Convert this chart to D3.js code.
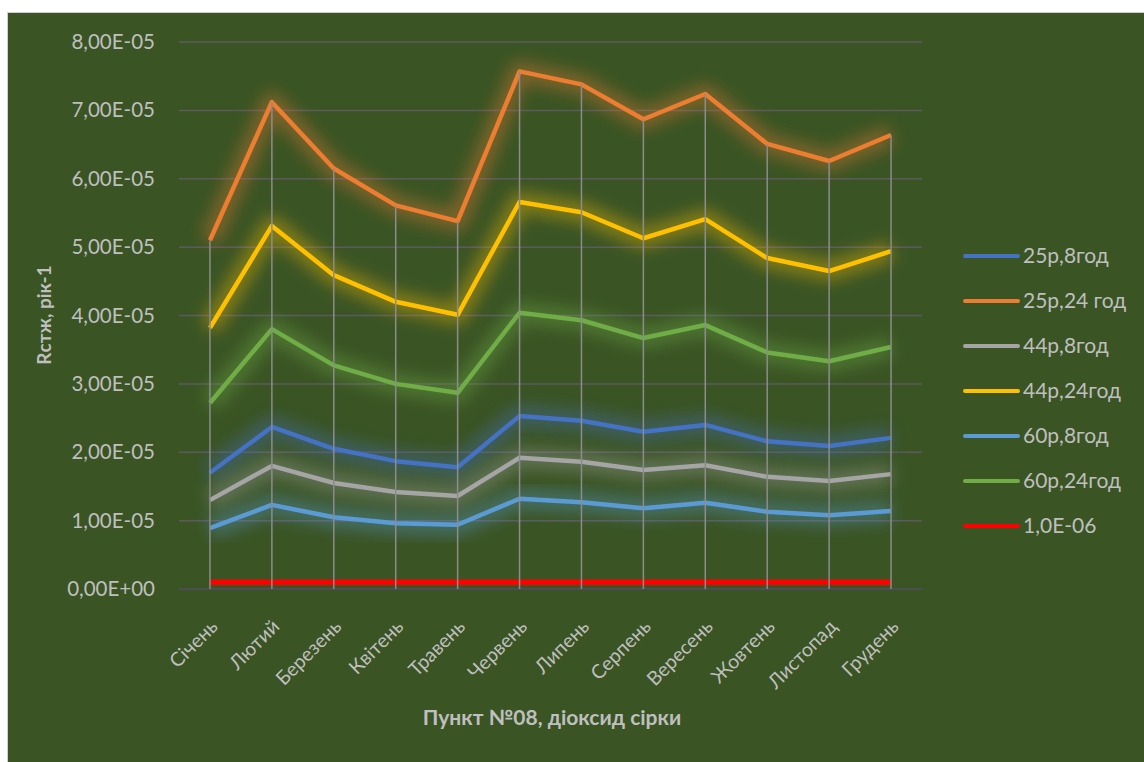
<!DOCTYPE html>
<html>
<head>
<meta charset="utf-8">
<script src="https://cdn.jsdelivr.net/npm/d3@7"></script>
<style>
  body { margin: 0; background: #fff; }
  text { font-family: Lato, "Open Sans", sans-serif; fill: #bfbfbf; }
</style>
</head>
<body>
<div id="chart"></div>
<script>
// data
const months = ['Січень', 'Лютий', 'Березень', 'Квітень', 'Травень', 'Червень',
  'Липень', 'Серпень', 'Вересень', 'Жовтень', 'Листопад', 'Грудень'];
const yTicks = [0, 1e-5, 2e-5, 3e-5, 4e-5, 5e-5, 6e-5, 7e-5, 8e-5];
const yTickLabels = ['0,00E+00', '1,00E-05', '2,00E-05', '3,00E-05', '4,00E-05',
  '5,00E-05', '6,00E-05', '7,00E-05', '8,00E-05'];

const s25r8 = [1.70, 2.37, 2.05, 1.87, 1.78, 2.53, 2.46, 2.30, 2.40, 2.16, 2.09, 2.21].map(v => v * 1e-5);
const s25r24 = [5.10, 7.12, 6.15, 5.61, 5.38, 7.57, 7.38, 6.87, 7.24, 6.51, 6.26, 6.64].map(v => v * 1e-5);
const s44r8 = [1.30, 1.80, 1.55, 1.42, 1.36, 1.92, 1.86, 1.74, 1.81, 1.64, 1.58, 1.68].map(v => v * 1e-5);
const s44r24 = [3.82, 5.31, 4.59, 4.20, 4.01, 5.66, 5.51, 5.13, 5.41, 4.84, 4.65, 4.94].map(v => v * 1e-5);
const s60r8 = [0.89, 1.23, 1.05, 0.96, 0.94, 1.32, 1.27, 1.18, 1.26, 1.13, 1.08, 1.14].map(v => v * 1e-5);
const s60r24 = [2.72, 3.80, 3.27, 3.00, 2.87, 4.04, 3.93, 3.67, 3.86, 3.46, 3.33, 3.54].map(v => v * 1e-5);
const sLimit = months.map(() => 1.0e-6);

const seriesNames = ['25р,8год', '25р,24 год', '44р,8год', '44р,24год', '60р,8год', '60р,24год', '1,0E-06'];
const seriesValues = [s25r8, s25r24, s44r8, s44r24, s60r8, s60r24, sLimit];
const seriesColors = ['#4472c4', '#ed7d31', '#a5a5a5', '#ffc000', '#5b9bd5', '#70ad47', '#ff0000'];

// layout
const width = 1144;
const height = 762;
const plot = { left: 179, right: 922, top: 42, bottom: 589 };

const svg = d3.select('#chart').append('svg')
    .attr('width', width)
    .attr('height', height);

// glow filter
const defs = svg.append('defs');
const glow = defs.append('filter')
    .attr('id', 'glow')
    .attr('x', '-20%').attr('y', '-50%')
    .attr('width', '140%').attr('height', '200%');
glow.append('feGaussianBlur').attr('stdDeviation', 8);

// background
svg.append('rect')
    .attr('x', 7.5).attr('y', 12.5)
    .attr('width', width).attr('height', height)
    .attr('fill', '#3a5424')
    .attr('stroke', '#d0d0d0')
    .attr('stroke-width', 1);

const xScale = d3.scaleBand()
    .domain(months)
    .range([plot.left, plot.right]);

const yScale = d3.scaleLinear()
    .domain([0, 8e-5])
    .range([plot.bottom, plot.top]);

const xPos = m => xScale(m) + xScale.bandwidth() / 2;

// gridlines
svg.append('g')
    .selectAll('line')
    .data(yTicks)
    .enter().append('line')
    .attr('x1', plot.left)
    .attr('x2', plot.right)
    .attr('y1', d => yScale(d))
    .attr('y2', d => yScale(d))
    .attr('stroke', d => d === 0 ? '#4d4d55' : '#5c5a5f')
    .attr('stroke-width', d => d === 0 ? 2 : 1.5);

// y axis labels
const yAxis = d3.axisLeft(yScale)
    .tickValues(yTicks)
    .tickFormat((d, i) => yTickLabels[i])
    .tickSize(0)
    .tickPadding(8);
const yG = svg.append('g')
    .attr('transform', 'translate(' + (plot.left - 16) + ',0)')
    .call(yAxis);
yG.select('.domain').remove();
yG.selectAll('text')
    .style('font-size', '20.5px')
    .attr('fill', '#bfbfbf');

// x axis labels
const xAxis = d3.axisBottom(xScale).tickSize(0).tickPadding(0);
const xG = svg.append('g')
    .attr('transform', 'translate(0,' + (plot.bottom + 16) + ')')
    .call(xAxis);
xG.select('.domain').remove();
xG.selectAll('text')
    .style('font-size', '19.5px')
    .attr('fill', '#bfbfbf')
    .attr('text-anchor', 'end')
    .attr('y', 0)
    .attr('dy', '0.35em')
    .attr('transform', 'translate(4,18) rotate(-45)');

// series lines
const line = d3.line()
    .x((d, i) => xPos(months[i]))
    .y(d => yScale(d));

const seriesG = svg.append('g');
seriesValues.forEach((vals, k) => {
    if (k < 6) {
        seriesG.append('path')
            .datum(vals)
            .attr('d', line)
            .attr('fill', 'none')
            .attr('stroke', seriesColors[k])
            .attr('stroke-width', 20)
            .attr('stroke-opacity', 0.38)
            .attr('stroke-linejoin', 'round')
            .attr('filter', 'url(#glow)');
    }
});
seriesValues.forEach((vals, k) => {
    seriesG.append('path')
        .datum(vals)
        .attr('d', line)
        .attr('fill', 'none')
        .attr('stroke', seriesColors[k])
        .attr('stroke-width', k === 6 ? 5.5 : 4.5)
        .attr('stroke-linejoin', 'round');
});

// drop lines
const maxVals = months.map((m, i) => d3.max(seriesValues, s => s[i]));
svg.append('g')
    .selectAll('line')
    .data(months)
    .enter().append('line')
    .attr('x1', d => xPos(d))
    .attr('x2', d => xPos(d))
    .attr('y1', (d, i) => yScale(maxVals[i]))
    .attr('y2', plot.bottom)
    .attr('stroke', '#8c8c8c')
    .attr('stroke-width', 1.5);

// axis titles
svg.append('text')
    .attr('transform', 'translate(51,315) rotate(-90)')
    .attr('text-anchor', 'middle')
    .style('font-size', '19px')
    .style('font-weight', 'bold')
    .text('Rстж, рік-1');

svg.append('text')
    .attr('x', 552)
    .attr('y', 725)
    .attr('text-anchor', 'middle')
    .style('font-size', '21px')
    .style('font-weight', 'bold')
    .text('Пункт №08, діоксид сірки');

// legend
const legend = svg.append('g')
    .attr('transform', 'translate(963,256)');
const legendItem = legend.selectAll('g')
    .data(seriesNames)
    .enter().append('g')
    .attr('transform', (d, i) => 'translate(0,' + i * 45 + ')');
legendItem.append('line')
    .attr('x1', 2).attr('x2', 55)
    .attr('stroke', (d, i) => seriesColors[i])
    .attr('stroke-width', 4)
    .attr('stroke-linecap', 'round');
legendItem.append('text')
    .attr('x', 60)
    .attr('dy', '0.35em')
    .style('font-size', '21px')
    .text(d => d);
</script>
</body>
</html>
